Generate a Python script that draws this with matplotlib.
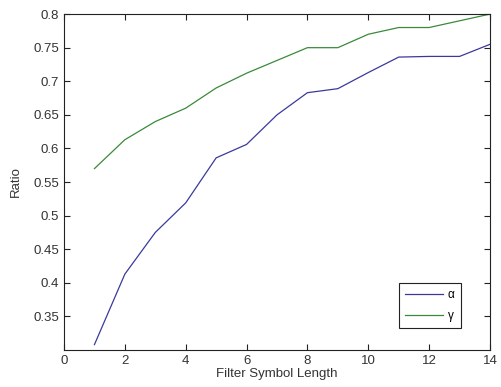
import matplotlib
matplotlib.use("Agg")
import matplotlib.pyplot as plt

# values
filter_len = [1, 2, 3, 4, 5, 6, 7, 8, 9, 10, 11, 12, 13, 14]
alpha = [0.308, 0.413, 0.475, 0.519, 0.586, 0.606, 0.650, 0.683, 0.689,
         0.713, 0.736, 0.737, 0.737, 0.755]
gamma = [0.570, 0.613, 0.640, 0.660, 0.690, 0.712, 0.731, 0.750, 0.750,
         0.770, 0.780, 0.780, 0.790, 0.800]
xticks = [0, 2, 4, 6, 8, 10, 12, 14]
yticks = [0.35, 0.4, 0.45, 0.5, 0.55, 0.6, 0.65, 0.7, 0.75, 0.8]

plt.rcParams['font.family'] = ['Liberation Sans', 'DejaVu Sans']
plt.rcParams['font.size'] = 9.5

fig = plt.figure(figsize=(5.02, 3.87), dpi=100)
ax = fig.add_axes([0.1275, 0.0956, 0.8486, 0.868])

ax.plot(filter_len, alpha, color='#3a3a9c', linewidth=0.9, label='α')
ax.plot(filter_len, gamma, color='#3a8a3a', linewidth=0.9, label='γ')

ax.set_xlim(0, 14)
ax.set_ylim(0.3, 0.8)
ax.set_xticks(xticks)
ax.set_xticklabels([str(t) for t in xticks])
ax.set_yticks(yticks)
ax.set_yticklabels(['0.35', '0.4', '0.45', '0.5', '0.55', '0.6', '0.65', '0.7', '0.75', '0.8'])
ax.tick_params(direction='in', top=True, right=True, length=4, width=0.8,
               colors='#222222', labelcolor='#333333')
for s in ax.spines.values():
    s.set_linewidth(0.8)
    s.set_color('#222222')

ax.set_xlabel('Filter Symbol Length', labelpad=1, color='#333333')
ax.set_ylabel('Ratio', labelpad=8, color='#333333')

leg = ax.legend(loc='lower right', bbox_to_anchor=(0.932, 0.065), borderaxespad=0,
                fancybox=False, framealpha=1, edgecolor='#222222', handlelength=3.2,
                borderpad=0.55, labelspacing=0.7, handletextpad=0.4, fontsize=8.5)
leg.get_frame().set_linewidth(0.8)

fig.savefig('out.png', dpi=100)
